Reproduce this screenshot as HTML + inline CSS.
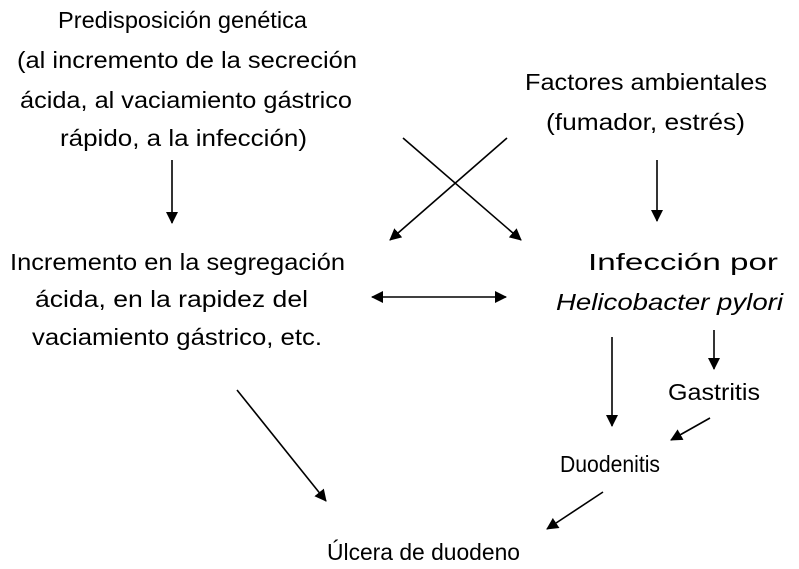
<!DOCTYPE html>
<html><head><meta charset="utf-8"><style>
html,body{margin:0;padding:0;background:#fff;}
svg{display:block;}
text{font-family:"Liberation Sans",sans-serif;font-size:23px;fill:#000;}
</style></head><body>
<svg width="799" height="569" viewBox="0 0 799 569" xmlns="http://www.w3.org/2000/svg">
<defs><marker id="a" markerWidth="12" markerHeight="12" refX="11" refY="6" orient="auto" markerUnits="userSpaceOnUse"><path d="M0,0 L12,6 L0,12 z" fill="#000"/></marker>
<marker id="b" markerWidth="12" markerHeight="12" refX="1" refY="6" orient="auto" markerUnits="userSpaceOnUse"><path d="M12,0 L0,6 L12,12 z" fill="#000"/></marker></defs>
<text x="58" y="28" textLength="249" lengthAdjust="spacingAndGlyphs">Predisposición genética</text>
<text x="17" y="68" textLength="340" lengthAdjust="spacingAndGlyphs">(al incremento de la secreción</text>
<text x="20" y="108" textLength="332" lengthAdjust="spacingAndGlyphs">ácida, al vaciamiento gástrico</text>
<text x="60" y="146" textLength="247" lengthAdjust="spacingAndGlyphs">rápido, a la infección)</text>
<text x="525" y="90" textLength="242" lengthAdjust="spacingAndGlyphs">Factores ambientales</text>
<text x="546" y="130" textLength="199" lengthAdjust="spacingAndGlyphs">(fumador, estrés)</text>
<text x="10" y="270" textLength="335" lengthAdjust="spacingAndGlyphs">Incremento en la segregación</text>
<text x="35" y="307" textLength="273" lengthAdjust="spacingAndGlyphs">ácida, en la rapidez del</text>
<text x="32" y="345" textLength="290" lengthAdjust="spacingAndGlyphs">vaciamiento gástrico, etc.</text>
<text x="588" y="270" textLength="190" lengthAdjust="spacingAndGlyphs">Infección por</text>
<text x="556" y="310" textLength="227" lengthAdjust="spacingAndGlyphs" font-style="italic">Helicobacter pylori</text>
<text x="668" y="400" textLength="92" lengthAdjust="spacingAndGlyphs">Gastritis</text>
<text x="560" y="472" textLength="100" lengthAdjust="spacingAndGlyphs">Duodenitis</text>
<text x="327" y="560" textLength="193" lengthAdjust="spacingAndGlyphs">Úlcera de duodeno</text>
<g stroke="#000" stroke-width="1.6" fill="none">
<line x1="172" y1="160" x2="172" y2="223" marker-end="url(#a)"/>
<line x1="403" y1="138" x2="521" y2="240" marker-end="url(#a)"/>
<line x1="507" y1="138" x2="390" y2="240" marker-end="url(#a)"/>
<line x1="657" y1="160" x2="657" y2="221" marker-end="url(#a)"/>
<line x1="372" y1="297" x2="506" y2="297" marker-start="url(#b)" marker-end="url(#a)"/>
<line x1="612" y1="337" x2="612" y2="426" marker-end="url(#a)"/>
<line x1="714" y1="330" x2="714" y2="369" marker-end="url(#a)"/>
<line x1="710" y1="418" x2="671" y2="440" marker-end="url(#a)"/>
<line x1="237" y1="390" x2="326" y2="501" marker-end="url(#a)"/>
<line x1="603" y1="492" x2="547" y2="529" marker-end="url(#a)"/>
</g>
</svg>
</body></html>
